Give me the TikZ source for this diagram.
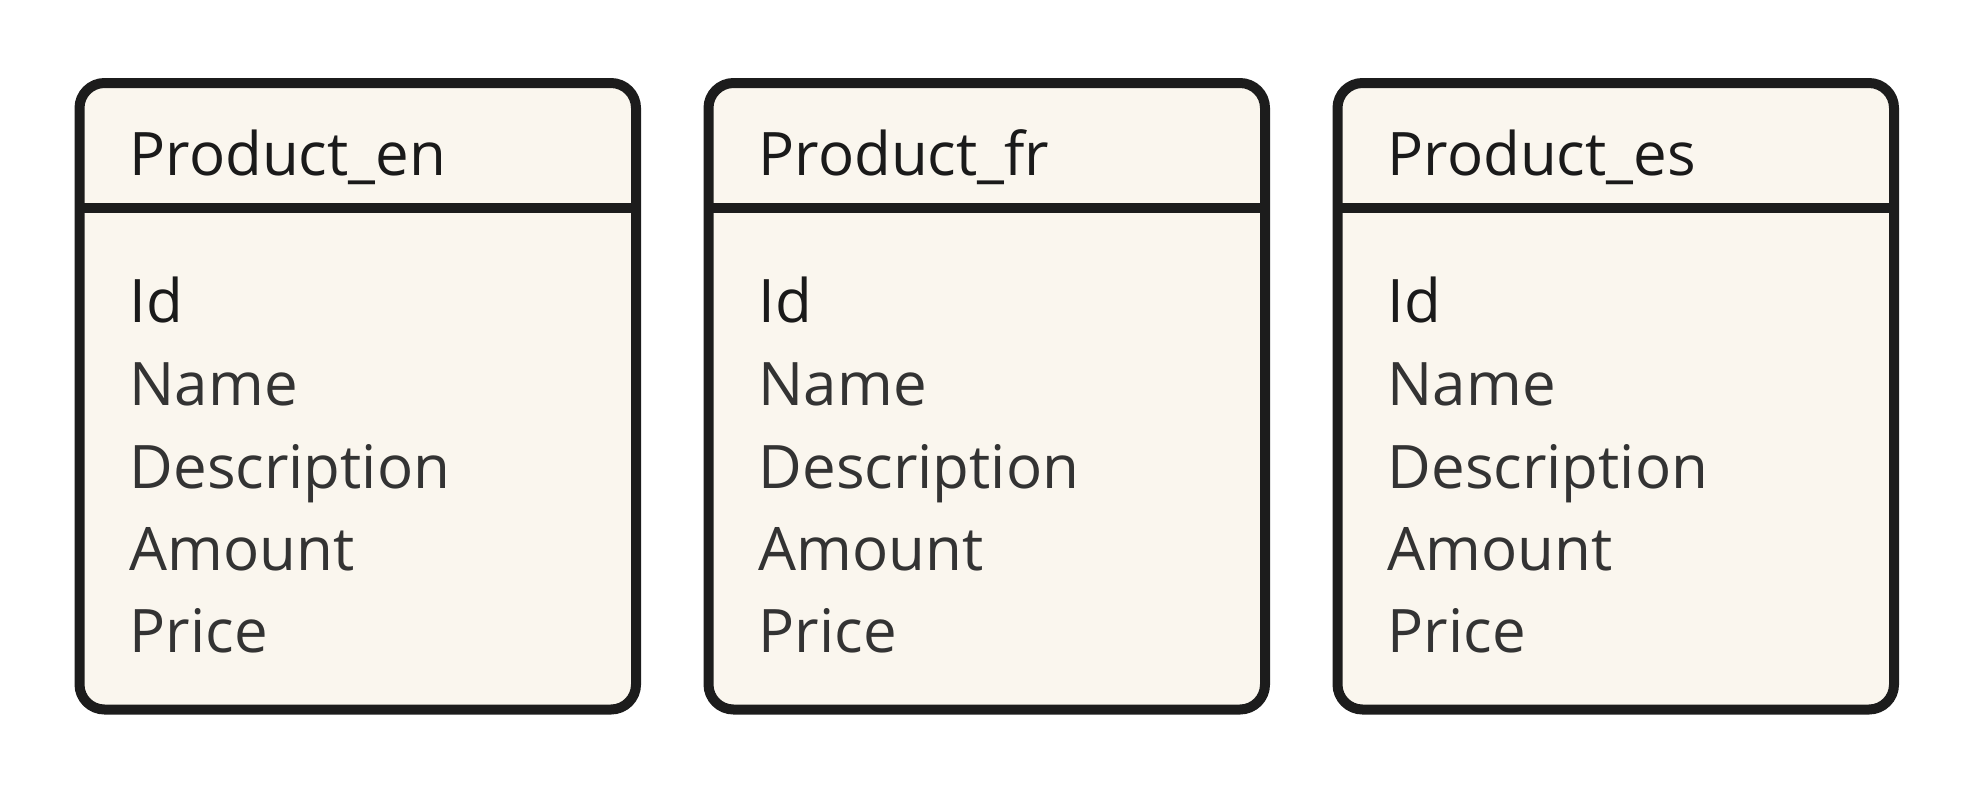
\documentclass[tikz,border=0pt]{standalone}
\usepackage{fontspec}
\setmainfont{Open Sans}
\definecolor{linec}{HTML}{1C1C1C}
\definecolor{fillc}{HTML}{FAF6EE}
\definecolor{headc}{HTML}{1A1A1A}
\definecolor{fieldc}{HTML}{333333}
\begin{document}
\begin{tikzpicture}[x=1pt,y=-1pt,
  tbl/.style={draw=linec, line width=10pt, fill=fillc, rounded corners=25pt},
  divider/.style={draw=linec, line width=10pt},
  txt/.style={anchor=base west, inner sep=0pt, font=\fontsize{60}{72}\selectfont},
  hdr/.style={txt, text=headc},
  keyf/.style={txt, text=headc},
  fld/.style={txt, text=fieldc}]
\useasboundingbox (0,0) rectangle (1970,793);
\foreach \i/\x/\lang in {1/79.5/en, 2/708.5/fr, 3/1337.5/es}{
  \draw[tbl] (\x,83) rectangle ++(556.5,626.5);
  \coordinate (dl\i) at (\x,208);
  \coordinate (dr\i) at (\x+556.5,208);
  \draw[divider] (dl\i) -- (dr\i);
  \node[hdr] (h\i) at (\x+50,175) {Product\_\lang};
  \node[keyf] (id\i) at (\x+50,322) {Id};
  \node[fld] (nm\i) at (\x+50,405) {Name};
  \node[fld] (ds\i) at (\x+50,488) {Description};
  \node[fld] (am\i) at (\x+50,570) {Amount};
  \node[fld] (pr\i) at (\x+50,652) {Price};
}
\end{tikzpicture}
\end{document}
